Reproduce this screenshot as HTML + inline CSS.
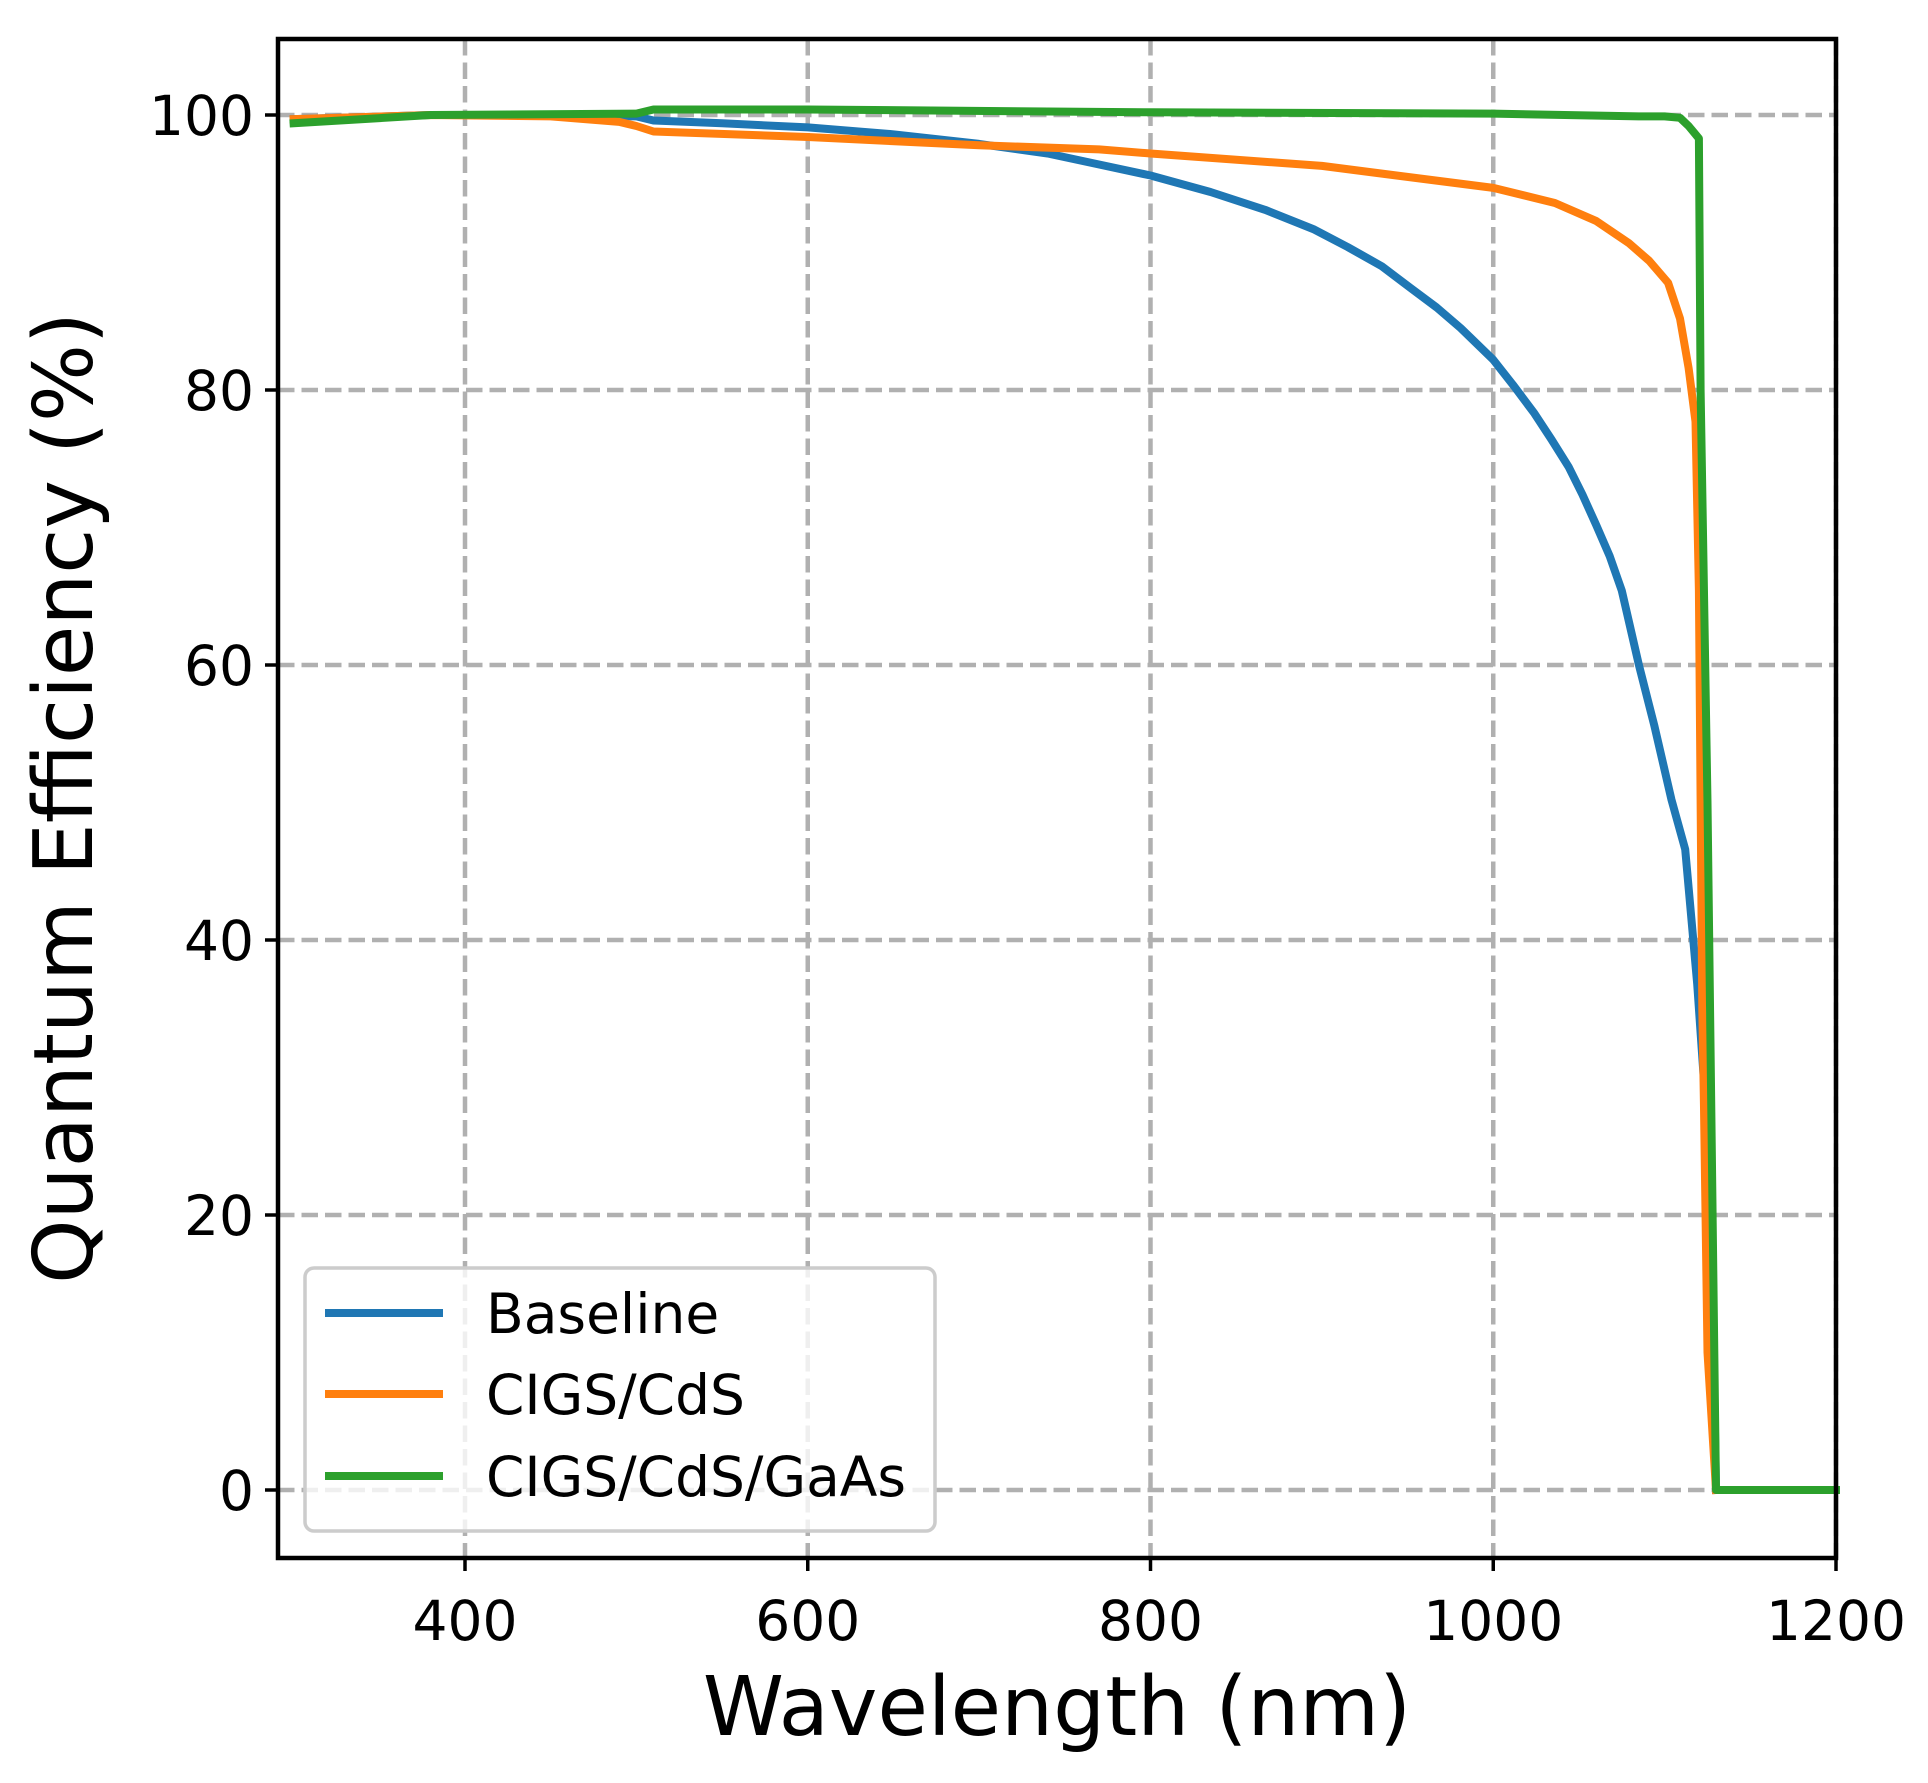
<!DOCTYPE html>
<html><head><meta charset="utf-8"><style>
html,body{margin:0;padding:0;background:#fff;}
svg{display:block;font-family:"DejaVu Sans","Liberation Sans",sans-serif;}
</style></head><body>
<svg id="chart" width="1928" height="1783" viewBox="0 0 1928 1783" xmlns="http://www.w3.org/2000/svg">
<rect width="1928" height="1783" fill="#fff"/>
<g id="grid"></g>
<g id="series"></g>
<g id="axes"></g>
<g id="legend"></g>
</svg>
<script>
const xTicks=[400,600,800,1000,1200];
const yTicks=[0,20,40,60,80,100];
const seriesNames=["Baseline","CIGS/CdS","CIGS/CdS/GaAs"];
const baselineX=[300,380,450,500,510,550,600,650,700,740,770,800,835,867,895,915,935,952,967,981,1000,1012,1024,1034,1044,1052,1060,1068,1075,1085,1094,1104,1112,1119,1124,1128,1130];
const baselineY=[99.7,100,100,99.9,99.6,99.4,99.1,98.6,97.9,97.2,96.4,95.6,94.4,93.1,91.7,90.4,89.0,87.4,86.0,84.5,82.2,80.3,78.3,76.4,74.4,72.4,70.2,67.9,65.4,60,55.6,50.2,46.6,36.8,27.8,14.4,0];
const cdsX=[300,380,450,490,500,510,600,700,770,800,900,1000,1036,1060,1079,1091,1102,1109,1114,1118,1120,1121,1122,1123,1125,1130];
const cdsY=[99.7,100,99.9,99.5,99.2,98.8,98.4,97.8,97.5,97.2,96.3,94.7,93.6,92.3,90.7,89.4,87.8,85.2,81.6,77.7,65.4,50.2,35,27.8,10,0];
const gaasX=[300,380,500,510,600,800,1000,1085,1100,1109,1114,1120,1121,1125,1127,1130,1200];
const gaasY=[99.4,100,100.1,100.4,100.4,100.2,100.1,99.9,99.9,99.8,99.2,98.3,80,50,30,0,0];
const colors=["#1f77b4","#ff7f0e","#2ca02c"];

const L=278,R=1836,T=39,B=1558;
function X(v){return 465+(v-400)*342.75/200;}
function Y(v){return 1490-v*13.75;}
const NS="http://www.w3.org/2000/svg";
function mk(tag,attrs,parent){const e=document.createElementNS(NS,tag);for(const k in attrs)e.setAttribute(k,attrs[k]);parent.appendChild(e);return e;}
const grid=document.getElementById('grid'),ser=document.getElementById('series'),ax=document.getElementById('axes'),leg=document.getElementById('legend');

xTicks.forEach(t=>{
  const g=mk('line',{x1:X(t),x2:X(t),y1:T,y2:B,stroke:'#b0b0b0','stroke-width':4.5,'stroke-dasharray':'16.5,7'},grid);
  
  
  const tk=mk('line',{x1:X(t),x2:X(t),y1:B,y2:B+13,stroke:'#000','stroke-width':3.5},ax);
  
  
  const tx=mk('text',{x:X(t),y:B+82,'font-size':55,'text-anchor':'middle',fill:'#000'},ax);
  tx.textContent=t;
  
  
});
yTicks.forEach(t=>{
  const g=mk('line',{x1:L,x2:R,y1:Y(t),y2:Y(t),stroke:'#b0b0b0','stroke-width':4.5,'stroke-dasharray':'16.5,7'},grid);
  
  
  const tk=mk('line',{x1:L-13,x2:L,y1:Y(t),y2:Y(t),stroke:'#000','stroke-width':3.5},ax);
  
  
  const tx=mk('text',{x:L-24,y:Y(t)+20,'font-size':55,'text-anchor':'end',fill:'#000'},ax);
  tx.textContent=t;
  
  
});

const allX=[baselineX,cdsX,gaasX],allY=[baselineY,cdsY,gaasY];
const lineNames=['baseline-line','cigs-cds-line','cigs-cds-gaas-line'];
for(let s=0;s<3;s++){
  const pts=allX[s].map((x,i)=>X(x).toFixed(1)+','+Y(allY[s][i]).toFixed(1)).join(' ');
  const p=mk('polyline',{points:pts,fill:'none',stroke:colors[s],'stroke-width':8,'stroke-linejoin':'round','stroke-linecap':'square'},ser);
  
  
}

const frame=mk('rect',{x:L,y:T,width:R-L,height:B-T,fill:'none',stroke:'#000','stroke-width':4.5},ax);


const xl=mk('text',{x:(L+R)/2,y:1735,'font-size':82,'text-anchor':'middle',fill:'#000'},ax);
xl.textContent='Wavelength (nm)';


const yl=mk('text',{x:0,y:0,'font-size':82,'text-anchor':'middle',fill:'#000',transform:'translate(92,798) rotate(-90)'},ax);
yl.textContent='Quantum Efficiency (%)';



const box=mk('rect',{x:305,y:1268,width:630,height:263,rx:9,fill:'rgba(255,255,255,0.8)',stroke:'#cccccc','stroke-width':3.5},leg);


const ly=[1313,1394,1476];
for(let s=0;s<3;s++){
  const l=mk('line',{x1:325,x2:443,y1:ly[s],y2:ly[s],stroke:colors[s],'stroke-width':8},leg);
  
  
  const t=mk('text',{x:486,y:ly[s]+20,'font-size':55,fill:'#000'},leg);
  t.textContent=seriesNames[s];
  
  
}
</script>
</body></html>
